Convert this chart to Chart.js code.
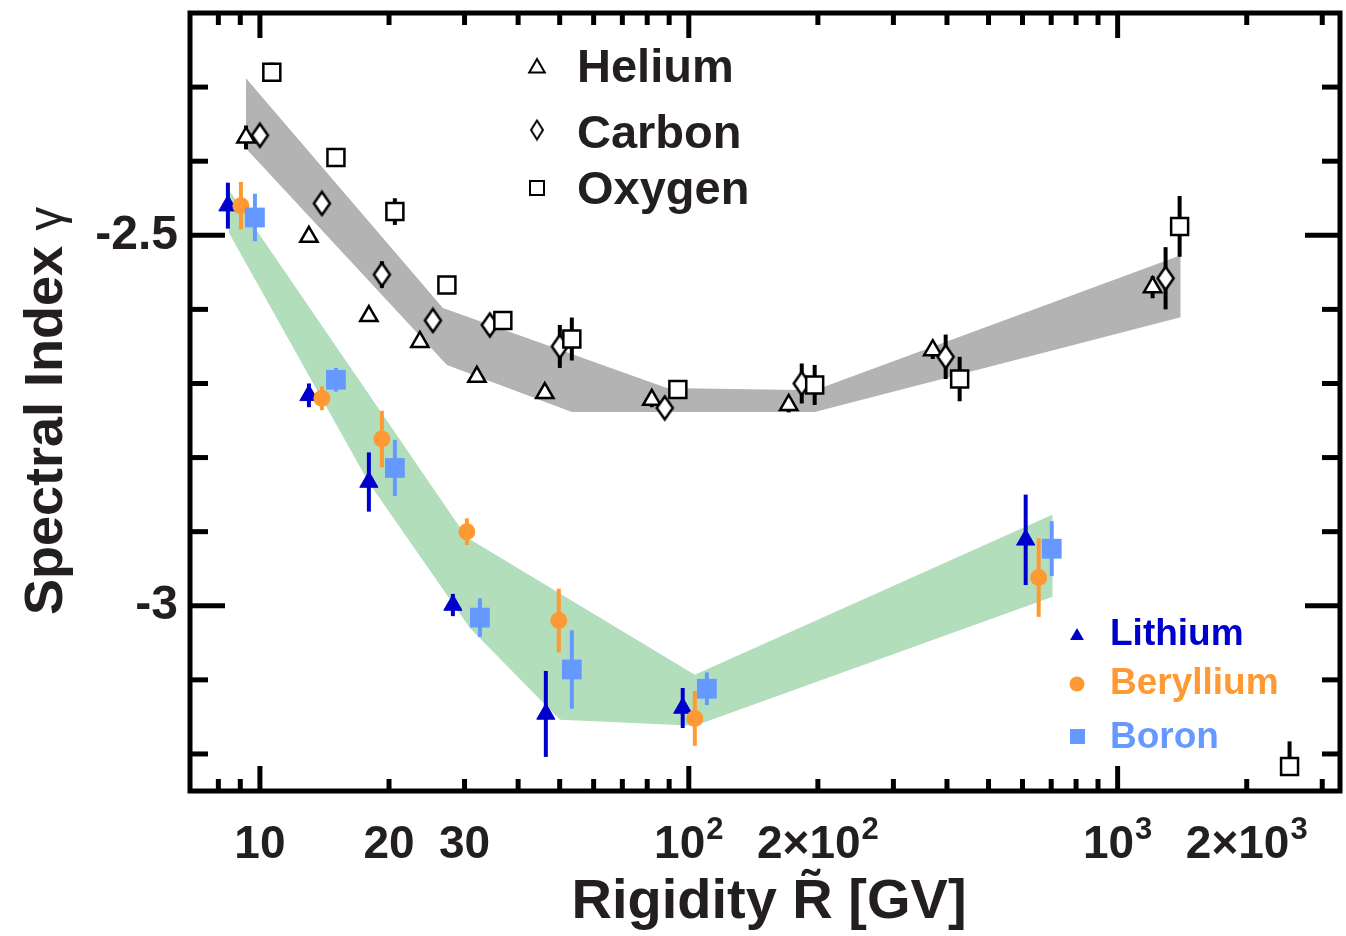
<!DOCTYPE html>
<html>
<head>
<meta charset="utf-8">
<title>Spectral index vs rigidity</title>
<script src="https://cdn.jsdelivr.net/npm/chart.js@4.4.0/dist/chart.umd.min.js"></script>
<style>
  html, body { margin: 0; padding: 0; background: #fff; }
  canvas { display: block; }
</style>
</head>
<body>
<canvas id="indexChart" width="1346" height="936"></canvas>
<script>
// primary nuclei: rigidity [GV], spectral index and its error
const heliumR = [9.28, 13.01, 17.95, 23.6, 32.06, 46.17, 82.0, 171.0, 370.6, 1206.6];
const heliumGamma = [-2.368, -2.502, -2.609, -2.644, -2.691, -2.713, -2.722, -2.729, -2.655, -2.570];
const heliumErr = [0.016, 0.008, 0.008, 0.008, 0.008, 0.008, 0.01, 0.01, 0.012, 0.015];

const carbonR = [10.0, 13.95, 19.25, 25.31, 34.37, 50.04, 87.9, 183.4, 397.2, 1293.7];
const carbonGamma = [-2.365, -2.457, -2.553, -2.615, -2.621, -2.650, -2.733, -2.700, -2.664, -2.558];
const carbonErr = [0.008, 0.008, 0.018, 0.01, 0.01, 0.029, 0.01, 0.027, 0.03, 0.042];

const oxygenR = [10.66, 15.04, 20.64, 27.29, 36.85, 53.37, 94.3, 196.6, 428.2, 1394.9, 2517];
const oxygenGamma = [-2.280, -2.395, -2.468, -2.567, -2.615, -2.640, -2.708, -2.702, -2.694, -2.488, -3.217];
const oxygenErr = [0.013, 0.012, 0.018, 0.008, 0.008, 0.029, 0.008, 0.027, 0.03, 0.041, [0, 0.034]];

// secondary nuclei
const lithiumR = [8.42, 13.01, 17.95, 28.18, 46.42, 96.8, 610.4];
const lithiumGamma = [-2.460, -2.716, -2.833, -2.999, -3.146, -3.138, -2.911];
const lithiumErr = [0.031, 0.016, 0.040, 0.015, 0.058, 0.027, 0.061];

const berylliumR = [9.03, 13.95, 19.25, 30.38, 49.77, 103.3, 654.5];
const berylliumGamma = [-2.460, -2.720, -2.775, -2.900, -3.020, -3.152, -2.962];
const berylliumErr = [0.032, 0.016, 0.038, 0.018, 0.043, 0.037, 0.053];

const boronR = [9.735, 15.04, 20.64, 32.58, 53.37, 110.2, 702];
const boronGamma = [-2.476, -2.695, -2.814, -3.016, -3.086, -3.112, -2.923];
const boronErr = [0.032, 0.016, 0.038, 0.026, 0.053, 0.022, 0.037];

// fit bands (upper and lower edges)
const primaryUpperR = [9.28, 26.71, 88.9, 196.6, 1403];
const primaryUpper = [-2.288, -2.598, -2.706, -2.709, -2.527];
const primaryLowerR = [9.28, 27.29, 53.37, 196.6, 1403];
const primaryLower = [-2.383, -2.675, -2.7385, -2.7385, -2.6105];

const secondaryUpperR = [8.47, 30.38, 103.3, 705.8];
const secondaryUpper = [-2.439, -2.908, -3.093, -2.877];
const secondaryLowerR = [8.47, 17.95, 30.87, 50.04, 103.3, 705.8];
const secondaryLower = [-2.497, -2.834, -3.030, -3.154, -3.162, -2.988];

// axes: x labels are a mantissa plus an optional power of ten
const xLabelValues = [10, 20, 30, 100, 200, 1000, 2000];
const xLabelBase = ["10", "20", "30", "10", "2\u00d710", "10", "2\u00d710"];
const xLabelPower = ["", "", "", "2", "2", "3", "3"];
const xMajorTicks = [10, 100, 1000];
const xMinorTicks = [8, 9, 20, 30, 40, 50, 60, 70, 80, 90, 200, 300, 400, 500, 600, 700, 800, 900, 2000, 3000];
const yLabelValues = [-3, -2.5];
const yLabelText = ["-3", "-2.5"];
const yMajorTicks = [-3, -2.5];
const yMinorTicks = [-3.2, -3.1, -2.9, -2.8, -2.7, -2.6, -2.4, -2.3];

const FONT = "'Liberation Sans', Arial, Helvetica, sans-serif";
const TEXT = "#231f20";
const LI_BLUE = "#0000cc";
const BE_ORANGE = "#ff9933";
const B_BLUE = "#6699ff";

Chart.defaults.font.family = FONT;

const pts = (xs, ys) => xs.map((v, i) => ({ x: v, y: ys[i] }));

// tall open diamond used for carbon
function makeDiamond(w, h, lw) {
    const c = document.createElement("canvas");
    c.width = w + lw * 2;
    c.height = h + lw * 2;
    const g = c.getContext("2d");
    const cx = c.width / 2, cy = c.height / 2;
    g.beginPath();
    g.moveTo(cx, cy - h / 2);
    g.lineTo(cx + w / 2, cy);
    g.lineTo(cx, cy + h / 2);
    g.lineTo(cx - w / 2, cy);
    g.closePath();
    g.fillStyle = "#fff";
    g.fill();
    g.lineWidth = lw;
    g.strokeStyle = "#000";
    g.stroke();
    return c;
}
const diamondBig = makeDiamond(16, 23, 2.5);
const diamondSmall = makeDiamond(12, 19, 2);

const markerSeries = [
    { r: heliumR, g: heliumGamma, err: heliumErr, color: "#000" },
    { r: carbonR, g: carbonGamma, err: carbonErr, color: "#000" },
    { r: oxygenR, g: oxygenGamma, err: oxygenErr, color: "#000" },
    { r: lithiumR, g: lithiumGamma, err: lithiumErr, color: LI_BLUE },
    { r: berylliumR, g: berylliumGamma, err: berylliumErr, color: BE_ORANGE },
    { r: boronR, g: boronGamma, err: boronErr, color: B_BLUE }
];

const errorBars = {
    id: "errorBars",
    beforeDatasetsDraw(chart) {
        const { ctx, scales: { x, y } } = chart;
        ctx.save();
        ctx.lineWidth = 4;
        ctx.lineCap = "butt";
        markerSeries.forEach(s => {
            ctx.strokeStyle = s.color;
            s.r.forEach((r, i) => {
                const e = s.err[i];
                const lo = Array.isArray(e) ? e[0] : e;
                const hi = Array.isArray(e) ? e[1] : e;
                const px = x.getPixelForValue(r);
                ctx.beginPath();
                ctx.moveTo(px, y.getPixelForValue(s.g[i] - lo));
                ctx.lineTo(px, y.getPixelForValue(s.g[i] + hi));
                ctx.stroke();
            });
        });
        ctx.restore();
    }
};

function triPath(ctx, x, y, r) {
    ctx.beginPath();
    ctx.moveTo(x, y - r);
    ctx.lineTo(x + r * 0.866, y + r / 2);
    ctx.lineTo(x - r * 0.866, y + r / 2);
    ctx.closePath();
}

const frameAndText = {
    id: "frameAndText",
    afterDraw(chart) {
        const { ctx, chartArea: a, scales: { x, y } } = chart;
        ctx.save();

        // inward ticks on all four sides
        ctx.strokeStyle = "#000";
        ctx.lineWidth = 5;
        ctx.lineCap = "butt";
        const seg = (x1, y1, x2, y2) => {
            ctx.beginPath();
            ctx.moveTo(x1, y1);
            ctx.lineTo(x2, y2);
            ctx.stroke();
        };
        const xTicks = (vals, len) => vals.forEach(v => {
            const p = x.getPixelForValue(v);
            seg(p, a.bottom, p, a.bottom - len);
            seg(p, a.top, p, a.top + len);
        });
        const yTicks = (vals, len) => vals.forEach(v => {
            const p = y.getPixelForValue(v);
            seg(a.left, p, a.left + len, p);
            seg(a.right, p, a.right - len, p);
        });
        xTicks(xMinorTicks, 12);
        xTicks(xMajorTicks, 25);
        yTicks(yMinorTicks, 18);
        yTicks(yMajorTicks, 35);
        ctx.lineJoin = "miter";
        ctx.strokeRect(a.left, a.top, a.right - a.left, a.bottom - a.top);

        // x tick labels with raised exponents
        ctx.fillStyle = TEXT;
        ctx.textBaseline = "alphabetic";
        ctx.textAlign = "left";
        const baseFont = "bold 46px " + FONT;
        const powFont = "bold 31px " + FONT;
        xLabelValues.forEach((v, i) => {
            ctx.font = baseFont;
            const wb = ctx.measureText(xLabelBase[i]).width;
            ctx.font = powFont;
            const wp = xLabelPower[i] ? ctx.measureText(xLabelPower[i]).width + 1 : 0;
            const left = x.getPixelForValue(v) - (wb + wp) / 2;
            ctx.font = baseFont;
            ctx.fillText(xLabelBase[i], left, 858);
            if (wp) {
                ctx.font = powFont;
                ctx.fillText(xLabelPower[i], left + wb + 1, 839);
            }
        });

        // axis titles
        ctx.textAlign = "center";
        ctx.font = "bold 56px " + FONT;
        ctx.fillText("Rigidity R\u0303 [GV]", 769, 918);

        ctx.save();
        ctx.translate(62, 615);
        ctx.rotate(-Math.PI / 2);
        ctx.textAlign = "left";
        ctx.font = "bold 54px " + FONT;
        ctx.fillText("Spectral Index", 0, 0);
        const w = ctx.measureText("Spectral Index ").width;
        ctx.font = "48px " + FONT;
        ctx.fillText("\u03b3", w, 0);
        ctx.restore();

        // legend for primary nuclei
        ctx.lineWidth = 2;
        ctx.strokeStyle = "#000";
        ctx.fillStyle = "#fff";
        triPath(ctx, 537, 68, 9);
        ctx.fill();
        ctx.stroke();
        ctx.drawImage(diamondSmall, 537 - diamondSmall.width / 2, 130 - diamondSmall.height / 2);
        ctx.fillRect(530, 181, 14, 14);
        ctx.strokeRect(530, 181, 14, 14);

        ctx.textAlign = "left";
        ctx.fillStyle = TEXT;
        ctx.font = "bold 47px " + FONT;
        ctx.fillText("Helium", 577, 82);
        ctx.fillText("Carbon", 577, 148);
        ctx.fillText("Oxygen", 577, 204);

        // legend for secondary nuclei
        ctx.fillStyle = LI_BLUE;
        triPath(ctx, 1077, 636, 8);
        ctx.fill();
        ctx.fillStyle = BE_ORANGE;
        ctx.beginPath();
        ctx.arc(1077, 684, 7.5, 0, Math.PI * 2);
        ctx.fill();
        ctx.fillStyle = B_BLUE;
        ctx.fillRect(1070, 729, 15, 15);

        ctx.font = "bold 37px " + FONT;
        ctx.fillStyle = LI_BLUE;
        ctx.fillText("Lithium", 1110, 645);
        ctx.fillStyle = BE_ORANGE;
        ctx.fillText("Beryllium", 1110, 694);
        ctx.fillStyle = B_BLUE;
        ctx.fillText("Boron", 1110, 748);

        ctx.restore();
    }
};

const bandLine = {
    type: "line",
    borderColor: "rgba(0,0,0,0)",
    borderWidth: 0,
    pointRadius: 0,
    tension: 0,
    order: 20
};

const markerSet = (data, style, extra) => Object.assign({
    type: "line",
    data: data,
    showLine: false,
    pointStyle: style,
    pointBorderWidth: 2.5
}, extra);

new Chart(document.getElementById("indexChart"), {
    type: "line",
    data: {
        datasets: [
            Object.assign({}, bandLine, { data: pts(primaryUpperR, primaryUpper), fill: "+1", backgroundColor: "#b3b3b3" }),
            Object.assign({}, bandLine, { data: pts(primaryLowerR, primaryLower), fill: false }),
            Object.assign({}, bandLine, { data: pts(secondaryUpperR, secondaryUpper), fill: "+1", backgroundColor: "#b3debb" }),
            Object.assign({}, bandLine, { data: pts(secondaryLowerR, secondaryLower), fill: false }),
            markerSet(pts(heliumR, heliumGamma), "triangle", {
                label: "Helium", pointRadius: 10, pointBackgroundColor: "#fff", pointBorderColor: "#000", order: 6
            }),
            markerSet(pts(carbonR, carbonGamma), diamondBig, { label: "Carbon", order: 5 }),
            markerSet(pts(oxygenR, oxygenGamma), "rect", {
                label: "Oxygen", pointRadius: 12, pointBackgroundColor: "#fff", pointBorderColor: "#000", order: 4
            }),
            markerSet(pts(lithiumR, lithiumGamma), "triangle", {
                label: "Lithium", pointRadius: 10.5, pointBorderWidth: 1,
                pointBackgroundColor: LI_BLUE, pointBorderColor: LI_BLUE, order: 3
            }),
            markerSet(pts(berylliumR, berylliumGamma), "circle", {
                label: "Beryllium", pointRadius: 8.5, pointBorderWidth: 0,
                pointBackgroundColor: BE_ORANGE, pointBorderColor: BE_ORANGE, order: 2
            }),
            markerSet(pts(boronR, boronGamma), "rect", {
                label: "Boron", pointRadius: 14, pointBorderWidth: 0,
                pointBackgroundColor: B_BLUE, pointBorderColor: B_BLUE, order: 1
            })
        ]
    },
    options: {
        responsive: false,
        animation: false,
        events: [],
        layout: { autoPadding: false, padding: { top: 13, right: 6, left: 0, bottom: 0 } },
        plugins: {
            legend: { display: false },
            tooltip: { enabled: false },
            filler: { drawTime: "beforeDatasetsDraw" }
        },
        scales: {
            x: {
                type: "logarithmic",
                min: 6.87,
                max: 3300,
                grid: { display: false, drawTicks: false },
                border: { display: false },
                ticks: { display: false },
                afterFit: s => {
                    s.height = 145;
                    s.paddingLeft = 0;
                    s.paddingRight = 0;
                }
            },
            y: {
                type: "linear",
                min: -3.25,
                max: -2.2,
                grid: { display: false, drawTicks: false },
                border: { display: false },
                afterFit: s => {
                    s.width = 190;
                    s.paddingTop = 0;
                    s.paddingBottom = 0;
                },
                afterBuildTicks: s => { s.ticks = yLabelValues.map(v => ({ value: v })); },
                ticks: {
                    padding: 12,
                    color: TEXT,
                    font: { size: 48, weight: "bold" },
                    callback: (v, i) => yLabelText[i]
                }
            }
        }
    },
    plugins: [errorBars, frameAndText]
});
</script>
</body>
</html>
